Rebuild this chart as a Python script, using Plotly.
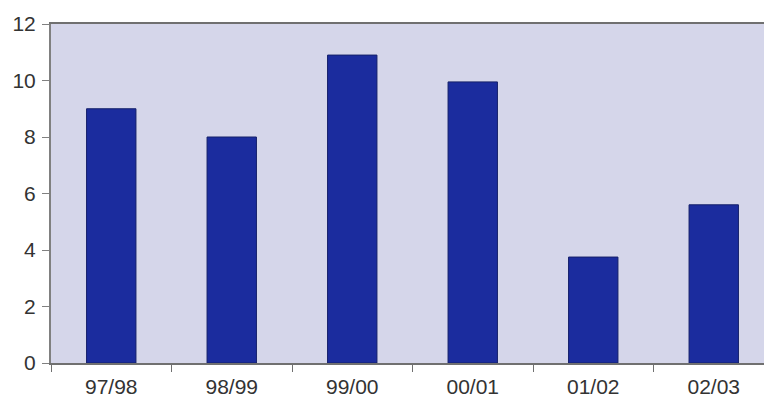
import plotly.graph_objects as go

seasons = ["97/98", "98/99", "99/00", "00/01", "01/02", "02/03"]
values = [9.0, 8.0, 10.9, 9.95, 3.75, 5.6]

fig = go.Figure(
    go.Bar(
        x=seasons,
        y=values,
        width=0.41,
        marker=dict(color="#1b2c9e", line=dict(color="#15206a", width=1)),
    )
)

fig.update_layout(
    width=764,
    height=410,
    margin=dict(l=51, r=0, t=24, b=47),
    paper_bgcolor="white",
    plot_bgcolor="#d5d6ea",
    showlegend=False,
    font=dict(family="Liberation Sans, Arial, sans-serif", size=21, color="#333333"),
)

fig.update_xaxes(
    type="category",
    range=[-0.5, 5.417],
    showline=True,
    linecolor="#707070",
    linewidth=2,
    mirror=True,
    ticks="outside",
    tickson="boundaries",
    ticklen=7,
    tickcolor="#707070",
    showgrid=False,
    tickfont=dict(size=21),
    ticklabelstandoff=4,
)

fig.update_yaxes(
    range=[0, 12],
    dtick=2,
    showline=True,
    linecolor="#808080",
    linewidth=2,
    ticks="outside",
    ticklen=7,
    tickcolor="#808080",
    showgrid=False,
    zeroline=False,
    tickfont=dict(size=21),
    ticklabelstandoff=2,
)

fig.write_html("out.html")
